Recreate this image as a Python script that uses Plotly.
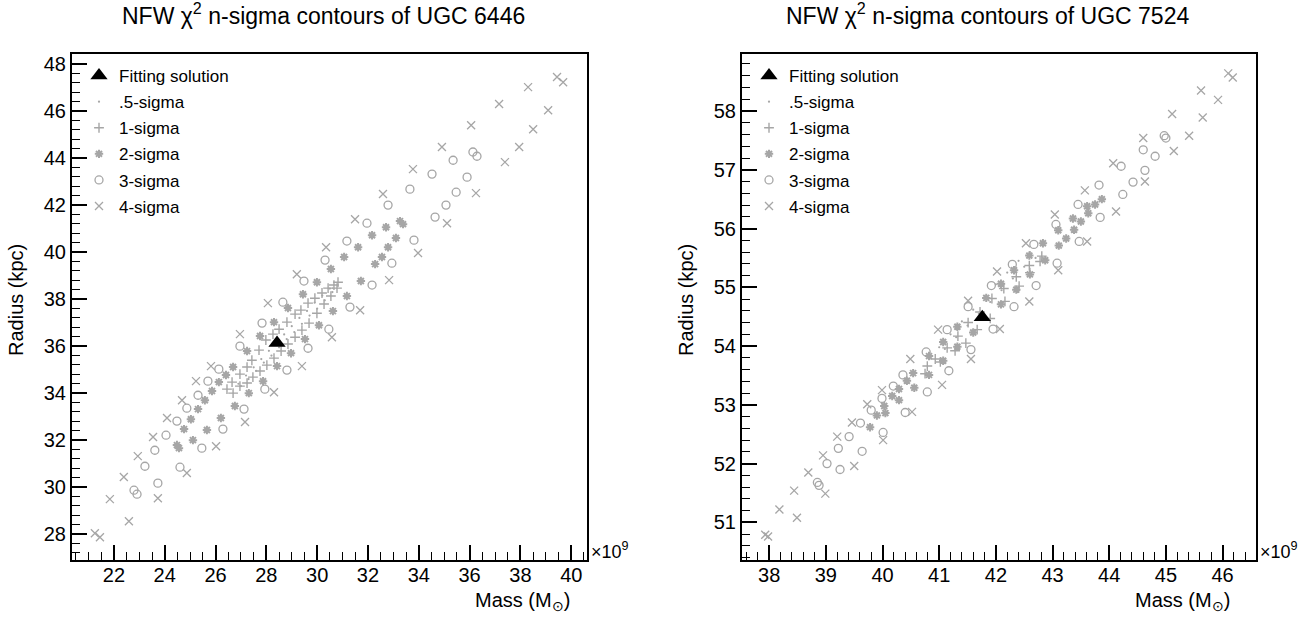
import plotly.graph_objects as go

# ---------------- UGC 6446 (left panel) ----------------
fit_6446_mass = [28.42]
fit_6446_radius = [36.13]

s05_6446_mass = [26.9, 27.2, 27.5, 27.8, 28.1, 28.4, 28.7, 29.0, 29.3, 29.6, 29.9, 30.2, 30.5,
                 27.0, 27.3, 27.6, 27.9, 28.2, 28.5, 28.8, 29.1, 29.4, 29.7, 30.0, 30.3, 30.6]
s05_6446_radius = [34.4, 34.75, 35.1, 35.45, 35.8, 36.15, 36.5, 36.85, 37.2, 37.5, 37.85, 38.15, 38.45,
                   34.3, 34.6, 34.95, 35.3, 35.6, 35.95, 36.3, 36.6, 36.95, 37.3, 37.6, 37.95, 38.3]

s1_6446_mass = [26.45, 26.65, 26.96, 27.24, 27.43, 27.71, 27.98, 28.26, 28.50, 28.81, 29.13, 29.36,
                29.64, 29.91, 30.19, 30.43, 30.66, 30.82,
                26.69, 26.96, 27.24, 27.47, 27.75, 28.02, 28.30, 28.58, 28.85, 29.13, 29.40, 29.68,
                29.99, 30.27, 30.54, 30.78]
s1_6446_radius = [34.17, 34.47, 34.81, 35.11, 35.40, 35.83, 36.26, 36.51, 36.72, 37.02, 37.36, 37.53,
                  37.83, 38.04, 38.26, 38.47, 38.60, 38.72,
                  34.00, 34.30, 34.43, 34.68, 34.94, 35.19, 35.49, 35.79, 36.09, 36.38, 36.68, 36.98,
                  37.40, 37.79, 38.13, 38.47]

s2_6446_mass = [24.48, 24.76, 25.03, 25.31, 25.58, 25.86, 26.13, 26.41, 26.69, 27.24, 27.75, 28.30,
                28.85, 29.44, 29.99, 30.54, 31.06, 31.61, 32.16, 32.71, 33.26,
                24.56, 25.11, 25.66, 26.21, 26.76, 27.31, 27.87, 28.42, 28.97, 29.52, 30.07, 30.62,
                31.17, 31.72, 32.28, 32.55, 32.79, 33.10, 33.38]
s2_6446_radius = [31.79, 32.47, 32.89, 33.32, 33.70, 34.09, 34.47, 34.77, 35.11, 35.79, 36.43, 37.02,
                  37.62, 38.21, 38.72, 39.28, 39.79, 40.21, 40.72, 41.06, 41.32,
                  31.66, 32.00, 32.43, 32.94, 33.45, 34.00, 34.51, 35.15, 35.70, 36.30, 36.89, 37.49,
                  38.13, 38.77, 39.49, 39.79, 40.21, 40.60, 41.19]

s3_6446_mass = [22.79, 23.22, 23.61, 24.05, 24.48, 24.87, 25.31, 25.70, 26.13, 26.96, 27.83, 28.65,
                29.48, 30.31, 31.17, 31.96, 32.79, 33.65, 34.52, 35.35, 36.13,
                22.91, 23.73, 24.60, 25.46, 26.29, 27.12, 27.94, 28.81, 29.64, 30.46, 31.29, 32.16,
                32.94, 33.81, 34.64, 35.07, 35.47, 35.90, 36.29]
s3_6446_radius = [29.87, 30.89, 31.57, 32.21, 32.81, 33.36, 33.91, 34.51, 35.02, 36.00, 36.98, 37.87,
                  38.77, 39.66, 40.47, 41.23, 42.00, 42.68, 43.32, 43.91, 44.26,
                  29.70, 30.17, 30.85, 31.66, 32.47, 33.32, 34.17, 34.98, 35.91, 36.72, 37.66, 38.60,
                  39.53, 40.51, 41.49, 42.00, 42.55, 43.19, 44.08]

s4_6446_mass = [21.25, 21.84, 22.39, 22.94, 23.54, 24.09, 24.68, 25.23, 25.82, 26.96, 28.06, 29.20,
                30.35, 31.49, 32.59, 33.77, 34.91, 36.06, 37.16, 38.30, 39.44,
                21.45, 22.59, 23.73, 24.87, 26.02, 27.16, 28.30, 29.40, 30.58, 31.69, 32.83, 33.97,
                35.11, 36.25, 37.39, 37.95, 38.50, 39.09, 39.68]
s4_6446_radius = [28.04, 29.49, 30.43, 31.32, 32.13, 32.94, 33.70, 34.51, 35.15, 36.51, 37.83, 39.06,
                  40.21, 41.40, 42.47, 43.53, 44.47, 45.40, 46.30, 47.02, 47.45,
                  27.87, 28.55, 29.53, 30.60, 31.74, 32.77, 34.04, 35.15, 36.38, 37.53, 38.81, 39.96,
                  41.23, 42.51, 43.83, 44.47, 45.23, 46.04, 47.23]

# ---------------- UGC 7524 (right panel) ----------------
fit_7524_mass = [41.76]
fit_7524_radius = [54.49]

s05_7524_mass = [41.0, 41.2, 41.4, 41.6, 41.8, 42.0, 42.2, 42.4, 42.6,
                 41.1, 41.3, 41.5, 41.7, 41.9, 42.1, 42.3, 42.5, 42.7]
s05_7524_radius = [53.98, 54.2, 54.42, 54.62, 54.85, 55.05, 55.25, 55.45, 55.6,
                   53.95, 54.15, 54.35, 54.55, 54.75, 54.95, 55.15, 55.35, 55.5]

s1_7524_mass = [40.79, 40.93, 41.14, 41.33, 41.51, 41.72, 41.93, 42.14, 42.36, 42.59, 42.81,
                40.75, 41.02, 41.28, 41.47, 41.67, 41.90, 42.16, 42.41, 42.60, 42.78]
s1_7524_radius = [53.66, 53.78, 53.97, 54.17, 54.40, 54.58, 54.81, 54.98, 55.18, 55.37, 55.53,
                  53.53, 53.73, 53.92, 54.05, 54.28, 54.47, 54.76, 55.02, 55.25, 55.44]

s2_7524_mass = [39.78, 39.90, 40.03, 40.17, 40.29, 40.43, 40.54, 40.82, 41.07, 41.32, 41.83, 42.09,
                42.32, 42.59, 42.83, 43.10, 43.36, 43.61, 43.87,
                40.05, 40.29, 40.56, 40.82, 41.07, 41.32, 41.60, 42.09, 42.36, 42.60, 42.87, 43.11,
                43.24, 43.38, 43.50, 43.63, 43.75]
s2_7524_radius = [52.62, 52.82, 52.98, 53.15, 53.27, 53.41, 53.54, 53.83, 54.07, 54.33, 54.82, 55.06,
                  55.29, 55.54, 55.75, 55.97, 56.17, 56.38, 56.50,
                  52.86, 53.08, 53.29, 53.51, 53.75, 53.99, 54.23, 54.71, 54.96, 55.22, 55.46, 55.71,
                  55.83, 55.98, 56.12, 56.26, 56.41]

s3_7524_mass = [38.85, 39.02, 39.22, 39.41, 39.61, 39.80, 39.99, 40.19, 40.36, 40.77, 41.14, 41.51,
                41.92, 42.29, 42.67, 43.06, 43.45, 43.82, 44.21, 44.60, 44.97,
                38.88, 39.25, 39.64, 40.01, 40.40, 40.79, 41.17, 41.56, 41.95, 42.32, 42.71, 43.08,
                43.47, 43.84, 44.24, 44.42, 44.63, 44.81, 45.00]
s3_7524_radius = [51.68, 52.00, 52.26, 52.46, 52.69, 52.91, 53.11, 53.32, 53.51, 53.90, 54.28, 54.67,
                  55.03, 55.39, 55.73, 56.07, 56.41, 56.74, 57.06, 57.34, 57.58,
                  51.63, 51.90, 52.21, 52.53, 52.87, 53.22, 53.58, 53.94, 54.29, 54.67, 55.03, 55.41,
                  55.78, 56.19, 56.58, 56.79, 56.99, 57.23, 57.54]

s4_7524_mass = [37.93, 38.18, 38.44, 38.69, 38.95, 39.20, 39.46, 39.73, 39.99, 40.49, 40.98, 41.51,
                42.02, 42.53, 43.04, 43.57, 44.07, 44.60, 45.11, 45.62, 46.10,
                37.98, 38.49, 38.99, 39.50, 40.01, 40.52, 41.05, 41.56, 42.07, 42.59, 43.10, 43.61,
                44.12, 44.63, 45.14, 45.41, 45.65, 45.92, 46.18]
s4_7524_radius = [50.79, 51.22, 51.54, 51.85, 52.14, 52.46, 52.70, 53.01, 53.25, 53.78, 54.28, 54.77,
                  55.27, 55.75, 56.24, 56.65, 57.11, 57.54, 57.95, 58.35, 58.64,
                  50.76, 51.08, 51.49, 51.96, 52.40, 52.88, 53.34, 53.78, 54.29, 54.76, 55.29, 55.78,
                  56.29, 56.80, 57.32, 57.58, 57.89, 58.19, 58.57]

galaxies = ["UGC 6446", "UGC 7524"]
series_names = ["Fitting solution", ".5-sigma", "1-sigma", "2-sigma", "3-sigma", "4-sigma"]

panel_data = [
    [(fit_6446_mass, fit_6446_radius), (s05_6446_mass, s05_6446_radius), (s1_6446_mass, s1_6446_radius),
     (s2_6446_mass, s2_6446_radius), (s3_6446_mass, s3_6446_radius), (s4_6446_mass, s4_6446_radius)],
    [(fit_7524_mass, fit_7524_radius), (s05_7524_mass, s05_7524_radius), (s1_7524_mass, s1_7524_radius),
     (s2_7524_mass, s2_7524_radius), (s3_7524_mass, s3_7524_radius), (s4_7524_mass, s4_7524_radius)],
]

GRAY = "#a6a6a6"
marker_styles = [
    dict(symbol="triangle-up", size=15, color="black"),
    dict(symbol="circle", size=2.2, color=GRAY),
    dict(symbol="cross-thin-open", size=7, color=GRAY, line=dict(color=GRAY, width=1.4)),
    dict(symbol="asterisk-open", size=7, color=GRAY, line=dict(color=GRAY, width=2)),
    dict(symbol="circle-open", size=8, color=GRAY, line=dict(color=GRAY, width=1.3)),
    dict(symbol="x-thin-open", size=8, color=GRAY, line=dict(color=GRAY, width=1.3)),
]

W, H = 1316, 621
FONT = "Liberation Sans, Arial, Helvetica, sans-serif"


def py(v):
    """vertical pixel position (from top) -> paper fraction"""
    return 1 - v / H


fig = go.Figure()
for p in range(2):
    xa = "x" if p == 0 else "x2"
    ya = "y" if p == 0 else "y2"
    leg = "legend" if p == 0 else "legend2"
    for k in [5, 4, 3, 2, 1, 0]:
        mx, ry = panel_data[p][k]
        fig.add_trace(go.Scatter(
            x=mx, y=ry, mode="markers", name=series_names[k],
            marker=marker_styles[k], xaxis=xa, yaxis=ya,
            legend=leg, legendgroup=f"{p}-{k}", legendrank=k + 1,
            hoverinfo="skip"))

left_dom = [72 / W, 587 / W]
right_dom = [742 / W, 1256 / W]
ydom = [py(560), py(54)]


def axis(dom, rng, dtick, minor_dtick, anchor, standoff):
    return dict(domain=dom, range=rng, anchor=anchor, dtick=dtick, tick0=0,
                showgrid=False, zeroline=False, showline=True, mirror=True,
                linecolor="black", linewidth=2,
                ticks="inside", ticklen=15, tickwidth=1.6, tickcolor="black",
                ticklabelstandoff=standoff,
                minor=dict(dtick=minor_dtick, ticks="inside", ticklen=8, tickwidth=1.4,
                           tickcolor="black", showgrid=False),
                tickfont=dict(family=FONT, size=20, color="black"),
                fixedrange=True)


legend_common = dict(yanchor="top", xanchor="left", bgcolor="rgba(0,0,0,0)",
                     font=dict(family=FONT, size=17, color="black"),
                     traceorder="grouped", tracegroupgap=1, itemwidth=30)

fig.update_layout(
    width=W, height=H,
    margin=dict(l=0, r=0, t=0, b=0),
    paper_bgcolor="white", plot_bgcolor="white",
    xaxis=axis(left_dom, [20.35, 40.62], 2, 0.5, "y", -4),
    yaxis=axis(ydom, [26.9, 48.43], 2, 0.4, "x", 0),
    xaxis2=axis(right_dom, [37.52, 46.59], 1, 0.2, "y2", -4),
    yaxis2=axis(ydom, [50.36, 58.97], 1, 0.2, "x2", 0),
    legend=dict(x=79 / W, y=py(58), **legend_common),
    legend2=dict(x=749 / W, y=py(58), **legend_common),
    showlegend=True,
)

annots = []
for p, (cx, xr, ycx, xe) in enumerate([(323, 572, 16, 589), (987, 1232, 686, 1258)]):
    annots.append(dict(text=f"NFW χ<sup>2</sup> n-sigma contours of {galaxies[p]}",
                       x=cx / W, y=py(14), xref="paper", yref="paper",
                       xanchor="center", yanchor="middle", showarrow=False,
                       font=dict(family=FONT, size=23, color="black")))
    annots.append(dict(text="Mass (M<sub>⊙</sub>)", x=xr / W, y=py(601),
                       xref="paper", yref="paper", xanchor="right", yanchor="middle",
                       showarrow=False, font=dict(family=FONT, size=20, color="black")))
    annots.append(dict(text="×10<sup>9</sup>", x=xe / W,
                       y=py(550), xref="paper", yref="paper", xanchor="left",
                       yanchor="middle", showarrow=False,
                       font=dict(family=FONT, size=18, color="black")))
    annots.append(dict(text="Radius (kpc)", x=ycx / W, y=py(300), xref="paper",
                       yref="paper", xanchor="center", yanchor="middle", textangle=-90,
                       showarrow=False, font=dict(family=FONT, size=20, color="black")))
fig.update_layout(annotations=annots)

fig.write_html("out.html", config={"displayModeBar": False})
